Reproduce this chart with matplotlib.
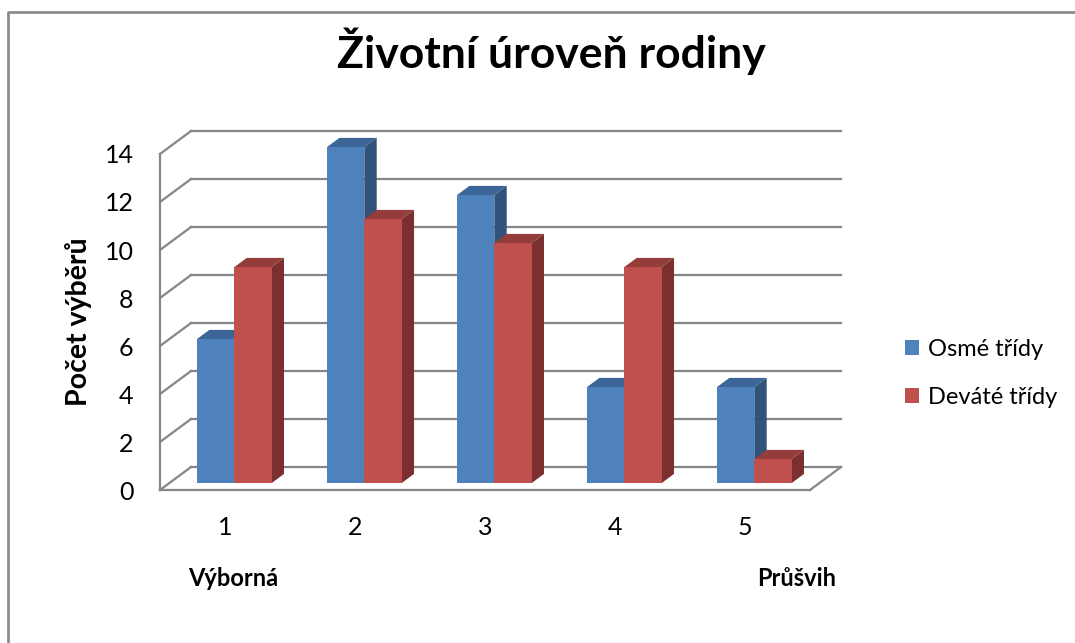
import matplotlib.pyplot as plt
from matplotlib.patches import Polygon, Rectangle, Patch
from matplotlib.lines import Line2D

plt.rcParams['font.family'] = ['Lato', 'DejaVu Sans']

# data
categories = ['1', '2', '3', '4', '5']
osme = [6, 14, 12, 4, 4]
devate = [9, 11, 10, 9, 1]
series_names = ['Osmé třídy', 'Deváté třídy']
yticks = [0, 2, 4, 6, 8, 10, 12, 14]

front_cols = ['#4F81BD', '#C0504D']
side_cols = ['#31527B', '#7B2F2E']
top_cols = ['#3C6698', '#943D3B']
grid_col = '#868686'

W, H = 1075, 643
fig = plt.figure(figsize=(W / 100, H / 100), dpi=100)

# plot area in pixels (front plane)
left_px, right_px, floor_px, top_px = 160, 810, 490, 154
ax = fig.add_axes([left_px / W, (H - floor_px) / H,
                   (right_px - left_px) / W, (floor_px - top_px) / H])
ax.set_xlim(0, len(categories))
ax.set_ylim(0, 14)

# depth of the 3d box in data units
px_x = (right_px - left_px) / len(categories)
px_y = (floor_px - top_px) / 14
DX = 31 / px_x
DY = 23 / px_y

# back wall + side wall grid
for v in yticks:
    ax.add_line(Line2D([0, DX], [v, v + DY], color=grid_col, lw=1.6, clip_on=False, zorder=1))
    ax.add_line(Line2D([DX, len(categories) + DX], [v + DY, v + DY], color=grid_col,
                       lw=1.6, clip_on=False, zorder=1))
# floor right edge
n = len(categories)
ax.add_line(Line2D([n, n + DX], [0, DY], color=grid_col, lw=1.6, clip_on=False, zorder=1))

for s in ['top', 'right']:
    ax.spines[s].set_visible(False)
for s in ['left', 'bottom']:
    ax.spines[s].set_color(grid_col)
    ax.spines[s].set_linewidth(1.6)
    ax.spines[s].set_zorder(1)

# 3d bars
bw = 0.287
off_x, off_y = 0.3 * DX, 0.3 * DY
dep_x, dep_y = 0.4 * DX, 0.4 * DY


def bar3d(x0, h, k):
    x = x0 + off_x
    y = off_y
    top = Polygon([(x, y + h), (x + bw, y + h), (x + bw + dep_x, y + h + dep_y),
                   (x + dep_x, y + h + dep_y)], closed=True, fc=top_cols[k], ec='none',
                  zorder=3, clip_on=False)
    side = Polygon([(x + bw, y), (x + bw + dep_x, y + dep_y), (x + bw + dep_x, y + h + dep_y),
                    (x + bw, y + h)], closed=True, fc=side_cols[k], ec='none',
                   zorder=3, clip_on=False)
    front = Rectangle((x, y), bw, h, fc=front_cols[k], ec='none', zorder=3, clip_on=False)
    for p in (top, side, front):
        ax.add_patch(p)


for i in range(n):
    for k, vals in enumerate([osme, devate]):
        bar3d(i + 0.5 - bw + k * bw, vals[i], k)

ax.set_yticks(yticks)
ax.set_xticks([i + 0.5 for i in range(n)])
ax.set_xticklabels(categories)
ax.tick_params(axis='y', length=0, pad=19, labelsize=18)
ax.tick_params(axis='x', length=0, pad=19, labelsize=18)

ax.text(0.56 / n, -3.67 / 14, 'Výborná', transform=ax.transAxes, ha='center', va='center',
        fontsize=17, fontweight='bold')
ax.text(4.9 / n, -3.67 / 14, 'Průšvih', transform=ax.transAxes, ha='center', va='center',
        fontsize=17, fontweight='bold')

fig.text(78 / W, 1 - 322 / H, 'Počet výběrů', rotation=90, ha='center', va='center',
         fontsize=20.5, fontweight='bold')
fig.text(551 / W, 1 - 68 / H, 'Životní úroveň rodiny', ha='center', va='baseline',
         fontsize=32, fontweight='bold')

handles = [Patch(fc=front_cols[k], ec='none') for k in range(2)]
fig.legend(handles, series_names, loc='upper left', bbox_to_anchor=(905 / W, 1 - 339 / H),
           frameon=False, fontsize=17, borderpad=0, borderaxespad=0, handlelength=0.59,
           handleheight=0.59, handletextpad=0.38, labelspacing=1.13)

# chart border (only top and left edges are inside the picture)
fig.add_artist(Line2D([8 / W, 8 / W, 1.0], [0.0, 1 - 12 / H, 1 - 12 / H],
                      transform=fig.transFigure, color='#8C8C8C', lw=2))

fig.savefig('out.png', dpi=100)
